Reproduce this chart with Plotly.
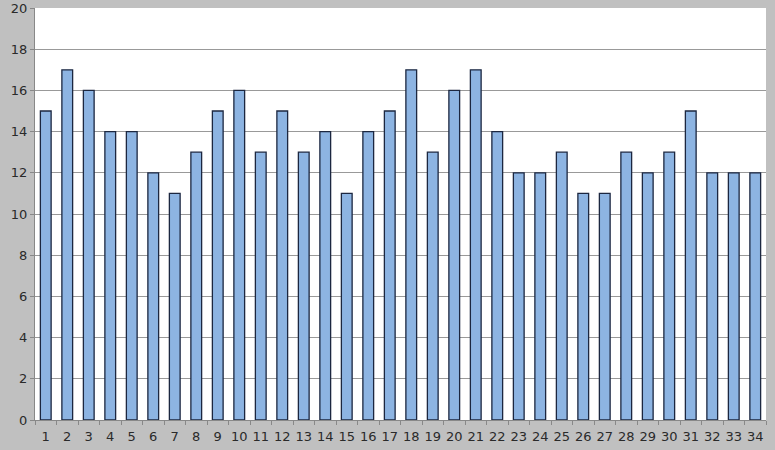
import plotly.graph_objects as go

categories = [str(i) for i in range(1, 35)]
values = [15, 17, 16, 14, 14, 12, 11, 13, 15, 16, 13, 15, 13, 14, 11, 14, 15,
          17, 13, 16, 17, 14, 12, 12, 13, 11, 11, 13, 12, 13, 15, 12, 12, 12]
y_ticks = list(range(0, 21, 2))

fig = go.Figure(
    go.Bar(
        x=categories,
        y=values,
        width=0.5,
        marker={"color": "#8db4e2", "line": {"color": "#1c2740", "width": 1.3}},
    )
)

fig.update_layout(
    width=775,
    height=450,
    paper_bgcolor="#c0c0c0",
    plot_bgcolor="#ffffff",
    margin={"l": 35, "r": 9, "t": 8, "b": 30, "autoexpand": False},
    showlegend=False,
    font={"family": "Verdana, DejaVu Sans, sans-serif", "size": 13, "color": "#2a2a2a"},
    xaxis={
        "type": "category",
        "showgrid": False,
        "showline": True,
        "linecolor": "#888888",
        "ticks": "outside",
        "ticklen": 4,
        "tickcolor": "#888888",
        "tickson": "boundaries",
        "tickangle": 0,
        "ticklabelstandoff": 4,
        "automargin": False,
    },
    yaxis={
        "range": [0, 20],
        "tickvals": y_ticks,
        "showgrid": True,
        "gridcolor": "#999999",
        "gridwidth": 1,
        "showline": True,
        "linecolor": "#888888",
        "ticks": "outside",
        "ticklen": 4,
        "tickcolor": "#888888",
        "zeroline": False,
        "automargin": False,
    },
)

# drop the browser's default page margin so the figure fills the window
fig.write_html(
    "out.html",
    config={"displayModeBar": False},
    post_script="document.body.style.margin='0';",
)
